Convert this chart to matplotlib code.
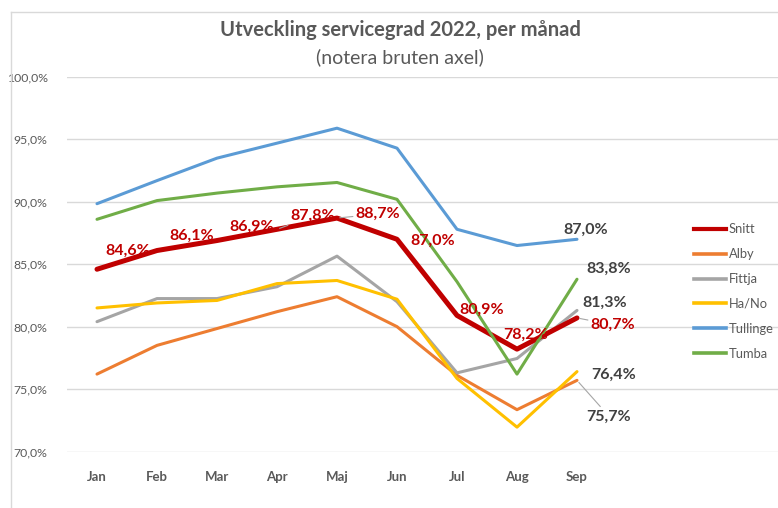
import matplotlib.pyplot as plt
from matplotlib.lines import Line2D

# data
months = ["Jan", "Feb", "Mar", "Apr", "Maj", "Jun", "Jul", "Aug", "Sep"]
snitt = [84.6, 86.1, 86.9, 87.8, 88.7, 87.0, 80.9, 78.2, 80.7]
alby = [76.2, 78.5, 79.85, 81.2, 82.4, 80.0, 76.1, 73.35, 75.7]
fittja = [80.4, 82.25, 82.25, 83.2, 85.65, 82.0, 76.3, 77.45, 81.3]
hano = [81.5, 81.9, 82.1, 83.45, 83.7, 82.2, 75.85, 71.95, 76.4]
tullinge = [89.85, 91.7, 93.5, 94.7, 95.9, 94.3, 87.8, 86.5, 87.0]
tumba = [88.6, 90.1, 90.7, 91.2, 91.55, 90.2, 83.6, 76.2, 83.8]
yticks = [70, 75, 80, 85, 90, 95, 100]

plt.rcParams['font.family'] = ['Lato', 'DejaVu Sans']

W, H = 778, 508
fig = plt.figure(figsize=(W / 100, H / 100), dpi=100)
fig.patch.set_facecolor('white')

# plot area (pixels from the reference): left 67, top 77, bottom 451.5
ax = fig.add_axes([67 / W, 1 - 451.5 / H, 1 - 67 / W, (451.5 - 77) / H])
ax.set_xlim(-0.5, (W - 97) / 60)
ax.set_ylim(70, 100)

x = list(range(len(months)))
series = [
    ("Snitt", snitt, "#C00000", 3.6),
    ("Alby", alby, "#ED7D31", 2.2),
    ("Fittja", fittja, "#A5A5A5", 2.2),
    ("Ha/No", hano, "#FFC000", 2.2),
    ("Tullinge", tullinge, "#5B9BD5", 2.2),
    ("Tumba", tumba, "#70AD47", 2.2),
]
order = ["Tullinge", "Alby", "Fittja", "Ha/No", "Snitt", "Tumba"]
z = {name: i + 2 for i, name in enumerate(order)}
handles = []
for name, vals, col, lw in series:
    ax.plot(x, vals, color=col, lw=lw, solid_capstyle='round', solid_joinstyle='round', zorder=z[name])
    handles.append(Line2D([0], [0], color=col, lw=2.6 if name != "Snitt" else 3.0))

ax.set_yticks(yticks)
ax.set_yticklabels([f"{v:.1f}".replace('.', ',') + '%' for v in yticks], fontsize=8.8, color='#595959')
ax.set_xticks(x)
ax.set_xticklabels(months, fontsize=9.5, fontweight='bold', color='#595959')
ax.tick_params(axis='both', length=0)
ax.tick_params(axis='y', pad=14)
ax.tick_params(axis='x', pad=14)
ax.grid(axis='y', color='#D9D9D9', lw=1)
ax.set_axisbelow(True)
for s in ax.spines.values():
    s.set_visible(False)


def fmt(v):
    return f"{v:.1f}".replace('.', ',') + '%'


leader = dict(arrowstyle='-', color='#A6A6A6', lw=0.8, shrinkA=0, shrinkB=2)

# Snitt labels, offsets in pixels from the point
snitt_off = [(31, 18), (35, 15), (35, 14), (36, 13), (41, 4), (36, -2), (25, 6), (9, 14), (36, -7)]
for i, (v, off) in enumerate(zip(snitt, snitt_off)):
    ap = leader if i in (3, 4, 8) else None
    ax.annotate(fmt(v), (i, v), xytext=off, textcoords='offset pixels',
                ha='center', va='center', fontsize=11.5, fontweight='bold',
                color='#C00000', zorder=20, arrowprops=ap)

# end labels for the branches
last = len(months) - 1
ends = [
    (tullinge, (9, 9), None),
    (tumba, (32, 10), None),
    (fittja, (28, 8), None),
    (hano, (37, -3), None),
    (alby, (32, -36), leader),
]
for vals, off, ap in ends:
    ax.annotate(fmt(vals[last]), (last, vals[last]), xytext=off, textcoords='offset pixels',
                ha='center', va='center', fontsize=11.5, fontweight='bold',
                color='#404040', zorder=20, arrowprops=ap)

ax.legend(handles, [s[0] for s in series], loc='center left',
          bbox_to_anchor=(694 / W, 1 - 291.5 / H), bbox_transform=fig.transFigure,
          frameon=False, fontsize=9.3, labelcolor='#595959', handlelength=2.5,
          handletextpad=0.2, labelspacing=1.0, borderpad=0, borderaxespad=0)

fig.text(400 / W, 1 - 30 / H, "Utveckling servicegrad 2022, per månad", ha='center', va='center',
         fontsize=14.5, fontweight='bold', color='#595959')
fig.text(400 / W, 1 - 57 / H, "(notera bruten axel)", ha='center', va='center',
         fontsize=14, color='#595959')

# chart frame edges visible in the screenshot
fig.add_artist(Line2D([10.5 / W, 10.5 / W], [0, 1 - 12 / H], color='#D9D9D9', lw=1))
fig.add_artist(Line2D([10.5 / W, 1], [1 - 12 / H, 1 - 12 / H], color='#D9D9D9', lw=1))

fig.savefig("out.png", dpi=100)
